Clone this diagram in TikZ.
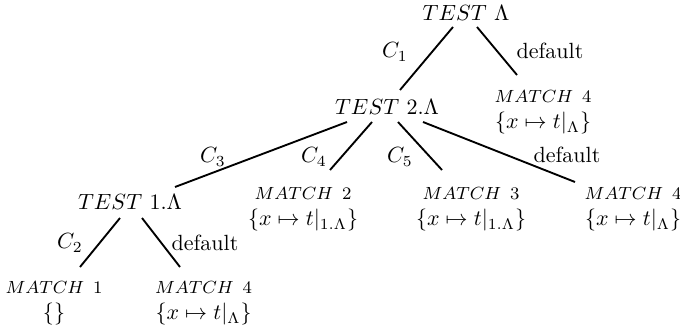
\documentclass[tikz,border=0pt]{standalone}
\begin{document}
\begin{tikzpicture}[x=0.4545pt,y=-0.4545pt,
  testnode/.style={inner sep=0pt,anchor=center},
  matchnode/.style={inner sep=0pt,anchor=north,align=center,font=\footnotesize},
  lbl/.style={inner sep=0pt,anchor=center},
  branch/.style={line width=0.85pt}]
\useasboundingbox (0,0) rectangle (680,329);
% test nodes
\node[testnode] (t0) at (466,12.5) {$TEST\ \Lambda$};
\node[testnode] (t2) at (387,106.5) {$TEST\ 2.\Lambda$};
\node[testnode] (t1) at (130,202) {$TEST\ 1.\Lambda$};
% match nodes
\node[matchnode] (m4a) at (543,90) {$MATCH\hspace{4pt}4$\\[2.5pt]{\normalsize$\{x\mapsto t|_{\Lambda}\}$}};
\node[matchnode] (m2) at (303,187) {$MATCH\hspace{4pt}2$\\[2.5pt]{\normalsize$\{x\mapsto t|_{1.\Lambda}\}$}};
\node[matchnode] (m3) at (471,187) {$MATCH\hspace{4pt}3$\\[2.5pt]{\normalsize$\{x\mapsto t|_{1.\Lambda}\}$}};
\node[matchnode] (m4b) at (633,187) {$MATCH\hspace{4pt}4$\\[2.5pt]{\normalsize$\{x\mapsto t|_{\Lambda}\}$}};
\node[matchnode] (m1) at (54,281) {$MATCH\hspace{4pt}1$\\[2.5pt]{\normalsize$\{\}$}};
\node[matchnode] (m4c) at (203.5,281) {$MATCH\hspace{4pt}4$\\[2.5pt]{\normalsize$\{x\mapsto t|_{\Lambda}\}$}};
% branches
\draw[branch] ([shift={(-13,14.5)}]t0.center) -- ([shift={(13,-16.5)}]t2.center);
\draw[branch] ([shift={(11,14.5)}]t0.center) -- ([shift={(-26,-15)}]m4a.north);
\draw[branch] ([shift={(-40,15.5)}]t2.center) -- ([shift={(45,-15)}]t1.center);
\draw[branch] ([shift={(-15,15.5)}]t2.center) -- ([shift={(27,-17)}]m2.north);
\draw[branch] ([shift={(11,15.5)}]t2.center) -- ([shift={(-29,-17)}]m3.north);
\draw[branch] ([shift={(36,15.5)}]t2.center) -- ([shift={(-58,-5)}]m4b.north);
\draw[branch] ([shift={(-10,16)}]t1.center) -- ([shift={(26,-14)}]m1.north);
\draw[branch] ([shift={(12,16)}]t1.center) -- ([shift={(-23.5,-14)}]m4c.north);
% labels
\node[lbl] (l1) at (395,52) {$C_1$};
\node[lbl] (l2) at (550,51) {default};
\node[lbl] (l3) at (213,157) {$C_3$};
\node[lbl] (l4) at (314,157) {$C_4$};
\node[lbl] (l5) at (400,157) {$C_5$};
\node[lbl] (l6) at (567,155) {default};
\node[lbl] (l7) at (70,243) {$C_2$};
\node[lbl] (l8) at (205,243) {default};
\end{tikzpicture}
\end{document}
